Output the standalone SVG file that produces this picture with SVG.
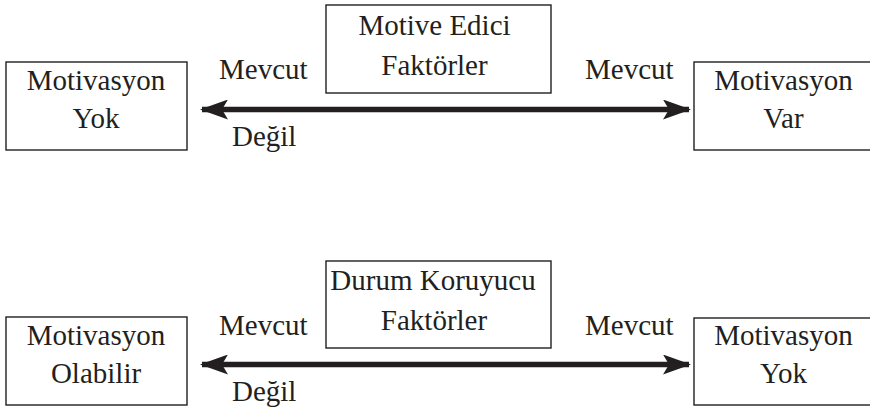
<svg xmlns="http://www.w3.org/2000/svg" width="870" height="409" viewBox="0 0 870 409">
<style>
.box{fill:#fff;stroke:#231f20;stroke-width:1.4}
text{font-family:"Liberation Serif","Times New Roman",serif;font-size:29px;fill:#231f20}
.c{text-anchor:middle}
.ar{stroke:#231f20;stroke-width:5.5;fill:none;marker-start:url(#ah);marker-end:url(#ah)}
</style>
<defs>
<marker id="ah" viewBox="0 0 28 20" refX="26" refY="10" markerWidth="28" markerHeight="20" markerUnits="userSpaceOnUse" orient="auto-start-reverse">
<path d="M0,0 L28,10 L0,20 L6,10 Z" fill="#231f20"/>
</marker>
</defs>
<g id="connectors">
<line class="ar" x1="202" y1="109.5" x2="689" y2="109.5"/>
<line class="ar" x1="202" y1="364.5" x2="689" y2="364.5"/>
<text x="219" y="79">Mevcut</text>
<text x="585" y="79">Mevcut</text>
<text x="232" y="146">Değil</text>
<text x="219" y="335">Mevcut</text>
<text x="585" y="335">Mevcut</text>
<text x="232" y="401">Değil</text>
</g>
<g id="n1">
<rect class="box" x="6" y="62" width="181" height="88"/>
<text class="c" x="96" y="90">Motivasyon</text>
<text class="c" x="96" y="128">Yok</text>
</g>
<g id="n2">
<rect class="box" x="326" y="5" width="225" height="88"/>
<text class="c" x="434.5" y="35">Motive Edici</text>
<text class="c" x="434.5" y="75">Faktörler</text>
</g>
<g id="n3">
<rect class="box" x="694" y="62" width="181" height="88"/>
<text class="c" x="783.5" y="90">Motivasyon</text>
<text class="c" x="783.5" y="128">Var</text>
</g>
<g id="n4">
<rect class="box" x="6" y="317" width="181" height="88"/>
<text class="c" x="96" y="345">Motivasyon</text>
<text class="c" x="96" y="383">Olabilir</text>
</g>
<g id="n5">
<rect class="box" x="326" y="261" width="225" height="87"/>
<text class="c" x="433" y="290">Durum Koruyucu</text>
<text class="c" x="434" y="330">Faktörler</text>
</g>
<g id="n6">
<rect class="box" x="694" y="318" width="181" height="87"/>
<text class="c" x="783.5" y="345">Motivasyon</text>
<text class="c" x="783.5" y="383">Yok</text>
</g>
</svg>
